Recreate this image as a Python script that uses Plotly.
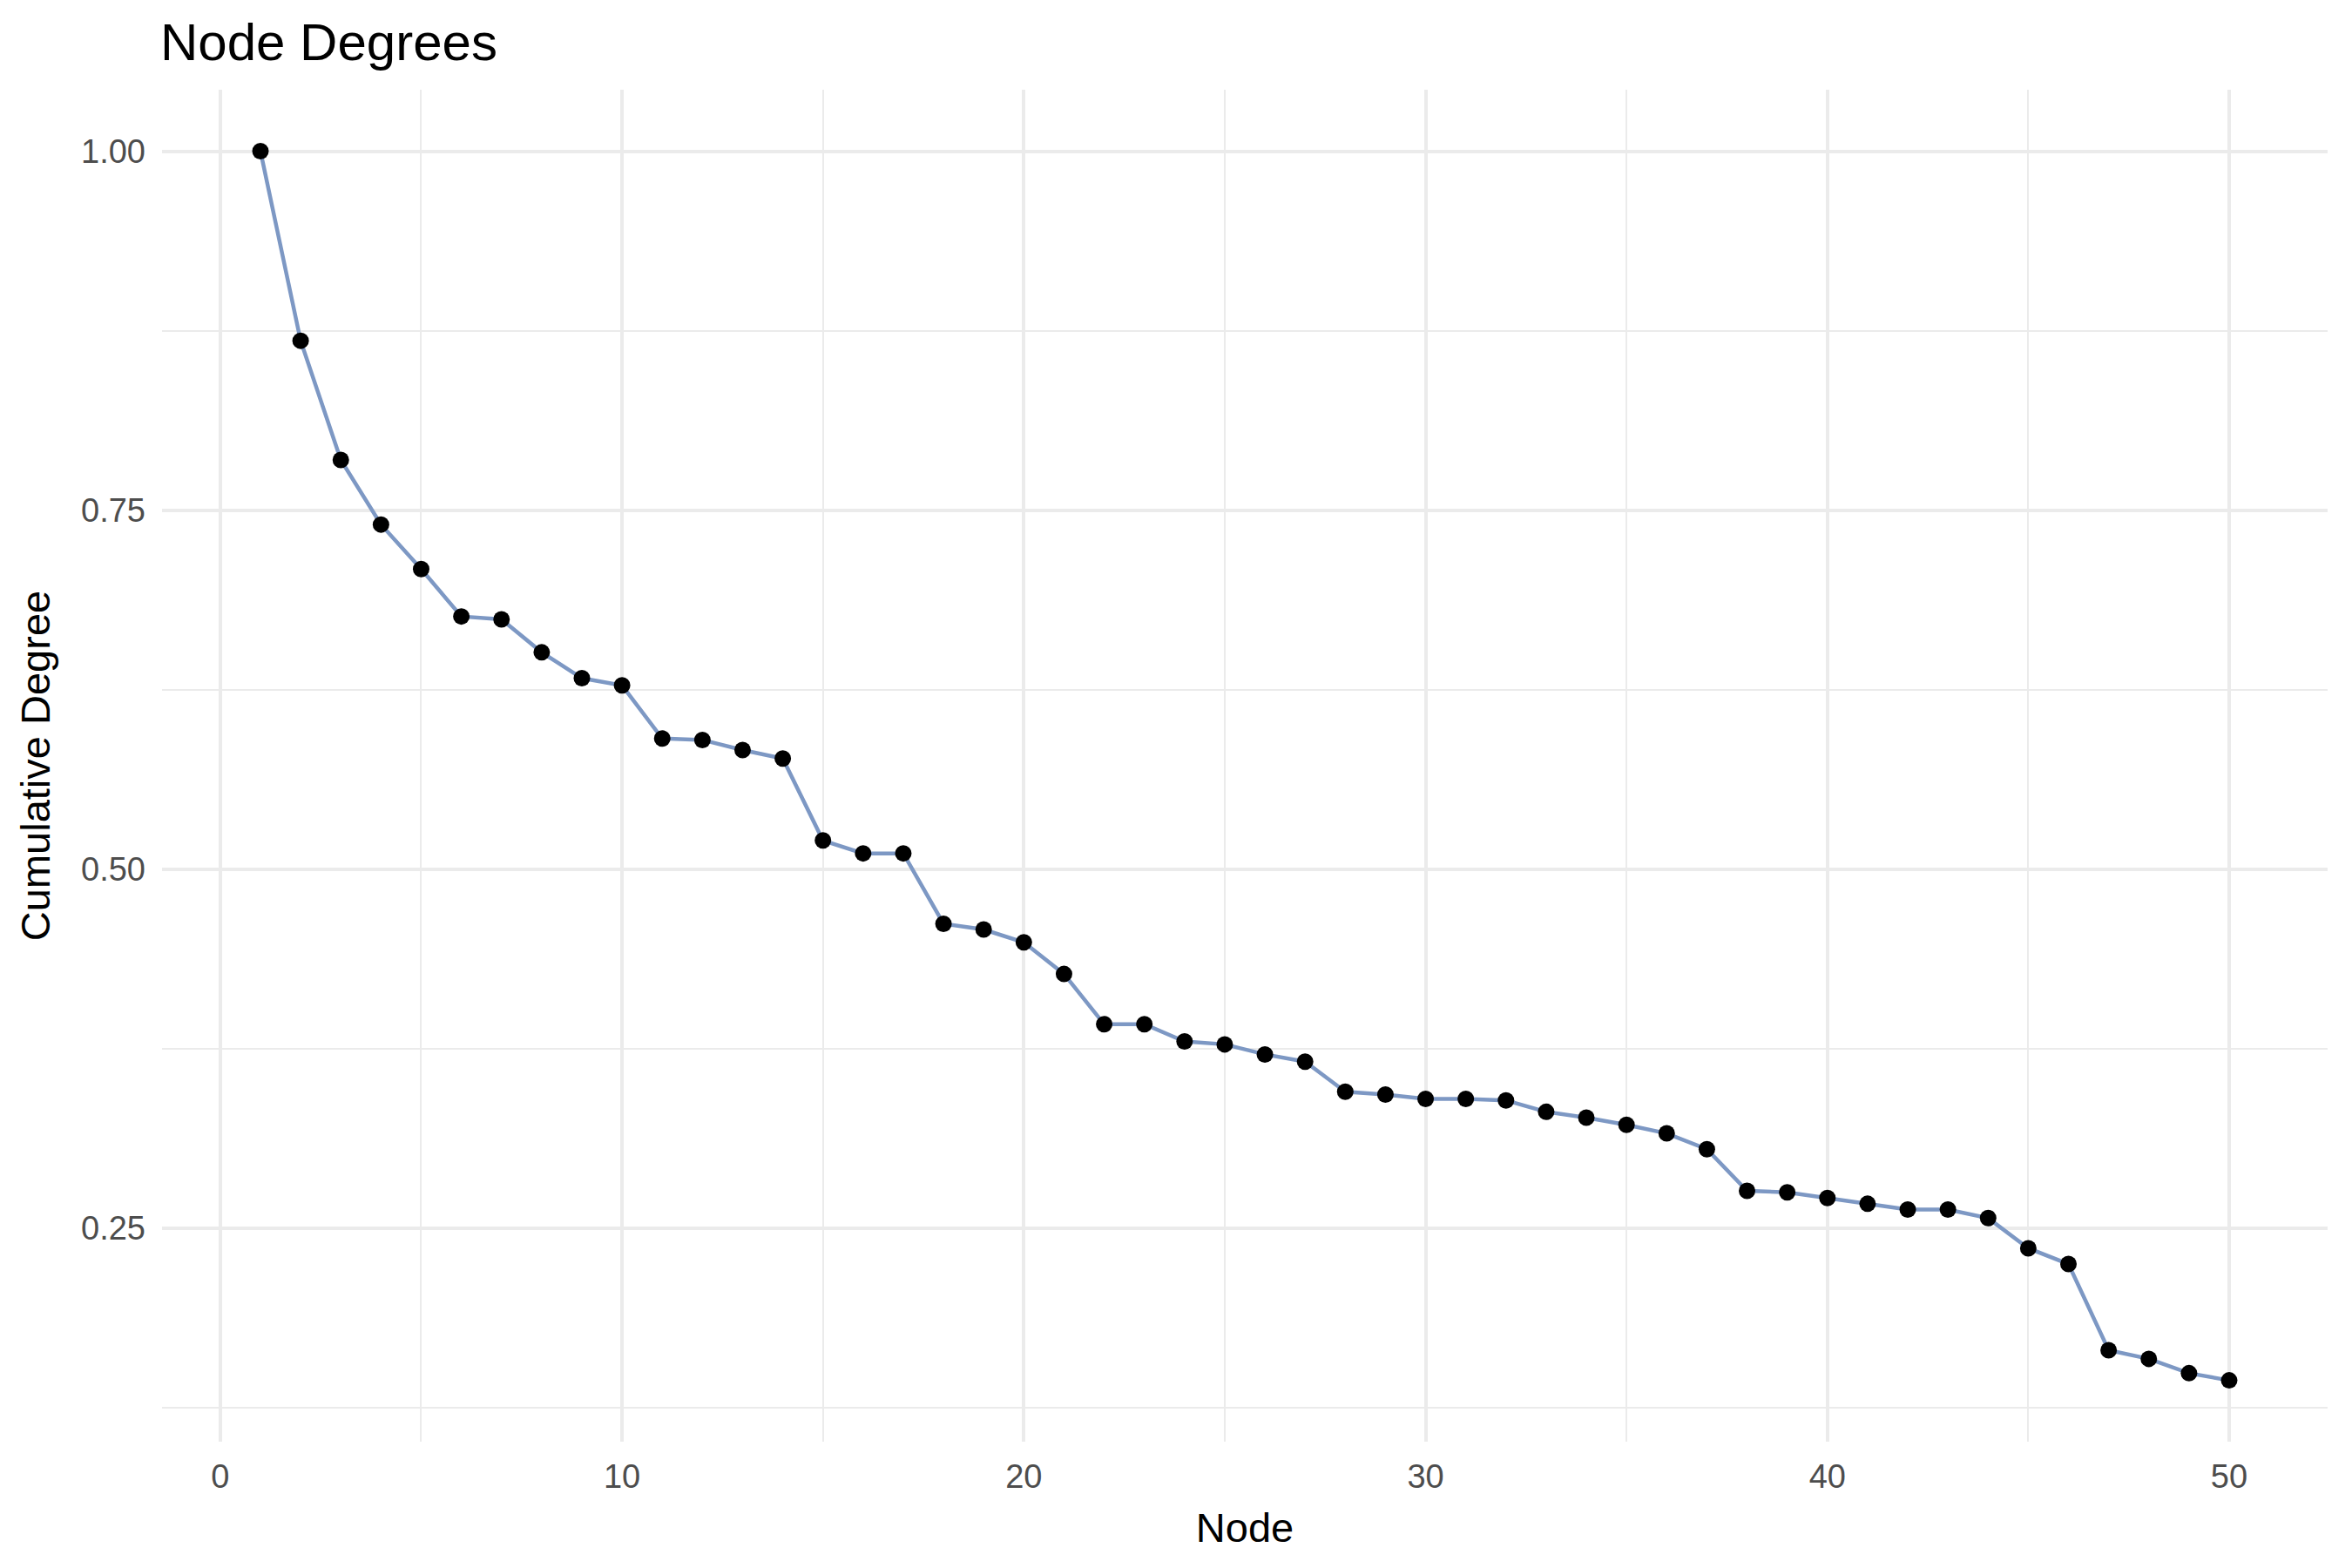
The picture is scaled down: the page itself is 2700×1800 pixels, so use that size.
import plotly.graph_objects as go

nodes = list(range(1, 51))
cumulative_degree = [
    1.000, 0.868, 0.785, 0.740, 0.709, 0.676, 0.674, 0.651, 0.633, 0.628,
    0.591, 0.590, 0.583, 0.577, 0.520, 0.511, 0.511, 0.462, 0.458, 0.449,
    0.427, 0.392, 0.392, 0.380, 0.378, 0.371, 0.366, 0.345, 0.343, 0.340,
    0.340, 0.339, 0.331, 0.327, 0.322, 0.316, 0.305, 0.276, 0.275, 0.271,
    0.267, 0.263, 0.263, 0.257, 0.236, 0.225, 0.165, 0.159, 0.149, 0.144,
]
x_ticks = [0, 10, 20, 30, 40, 50]
y_ticks = [0.25, 0.50, 0.75, 1.00]

FONT = "Liberation Sans, Arial, Helvetica, sans-serif"
GRID = "#EBEBEB"

fig = go.Figure()
fig.add_trace(go.Scatter(
    x=nodes, y=cumulative_degree, mode="lines",
    line=dict(color="#7D98C4", width=4.5),
    showlegend=False, hoverinfo="skip",
))
fig.add_trace(go.Scatter(
    x=nodes, y=cumulative_degree, mode="markers",
    marker=dict(color="black", size=19, line=dict(width=0)),
    showlegend=False,
))

fig.update_layout(
    width=2700, height=1800,
    margin=dict(l=186, r=28, t=103, b=145),
    paper_bgcolor="white", plot_bgcolor="white",
    font=dict(family=FONT, color="black"),
    title=dict(
        text="Node Degrees", font=dict(size=60, color="black", family=FONT),
        x=184 / 2700, xanchor="left", xref="container",
        y=1 - 48 / 1800, yanchor="middle", yref="container",
    ),
)
fig.update_xaxes(
    range=[-1.45, 52.45], tickmode="array", tickvals=x_ticks,
    ticktext=[str(v) for v in x_ticks],
    showgrid=True, gridcolor=GRID, gridwidth=4,
    minor=dict(tickmode="array", tickvals=[5, 15, 25, 35, 45], showgrid=True,
               gridcolor=GRID, gridwidth=2),
    zeroline=False, showline=False, ticks="",
    tickfont=dict(size=38, color="#4D4D4D", family=FONT),
    ticklabelstandoff=14,
    title=dict(text="Node", font=dict(size=47, color="black", family=FONT), standoff=22),
)
fig.update_yaxes(
    range=[0.1013, 1.0428], tickmode="array", tickvals=y_ticks,
    ticktext=[f"{v:.2f}" for v in y_ticks],
    showgrid=True, gridcolor=GRID, gridwidth=4,
    minor=dict(tickmode="array", tickvals=[0.125, 0.375, 0.625, 0.875], showgrid=True,
               gridcolor=GRID, gridwidth=2),
    zeroline=False, showline=False, ticks="",
    tickfont=dict(size=38, color="#4D4D4D", family=FONT),
    ticklabelstandoff=18,
    title=dict(text="Cumulative Degree", font=dict(size=47, color="black", family=FONT), standoff=20),
)

fig.write_html("out.html")
